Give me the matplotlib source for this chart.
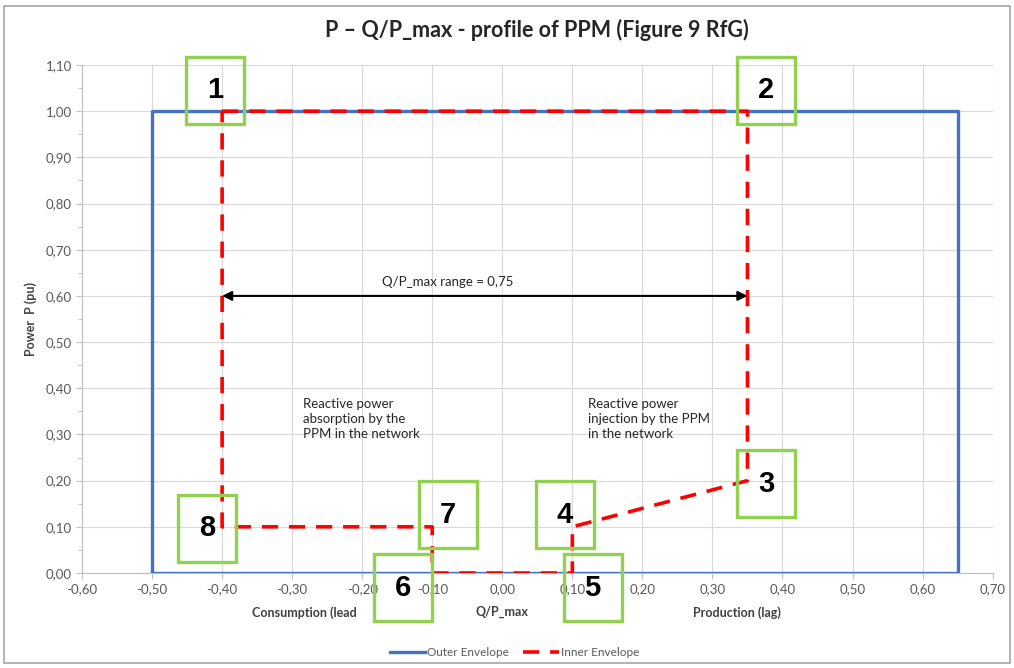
import matplotlib
matplotlib.use("Agg")
import matplotlib.pyplot as plt
from matplotlib.patches import Rectangle
from matplotlib.ticker import MultipleLocator, FuncFormatter

# envelopes (Q/P_max, P)
outer_q = [-0.50, -0.50, 0.65, 0.65, -0.50]
outer_p = [0.00, 1.00, 1.00, 0.00, 0.00]
inner_q = [-0.40, 0.35, 0.35, 0.10, 0.10, -0.10, -0.10, -0.40, -0.40]
inner_p = [1.00, 1.00, 0.20, 0.10, 0.00, 0.00, 0.10, 0.10, 1.00]

# numbered corner markers (label, box centre)
markers = ["1", "2", "3", "4", "5", "6", "7", "8"]
marker_q = [-0.410, 0.376, 0.377, 0.089, 0.129, -0.142, -0.078, -0.422]
marker_p = [1.045, 1.045, 0.193, 0.126, -0.032, -0.032, 0.126, 0.097]

range_text = "Q/P_max range = 0,75"
left_text = "Reactive power\nabsorption by the\nPPM in the network"
right_text = "Reactive power\ninjection by the PPM\nin the network"

blue = "#4472C4"
red = "#FF0000"
green = "#92D050"
font = ["Lato", "DejaVu Sans"]

fig = plt.figure(figsize=(10.14, 6.68), dpi=100)
ax = fig.add_axes([0.0809, 0.1422, 0.898, 0.7605])

# outer picture border
fig.patches.append(Rectangle((0.004, 0.008), 0.992, 0.983, transform=fig.transFigure,
                             fill=False, edgecolor="#A6A6A6", lw=1.2))

ax.plot(outer_q, outer_p, color=blue, lw=2.4, label="Outer Envelope", zorder=3)
ax.plot(inner_q, inner_p, color=red, lw=2.6, ls=(0, (4.5, 3)), label="Inner Envelope",
        zorder=4)

ax.set_xlim(-0.6, 0.7)
ax.set_ylim(0, 1.1)
ax.xaxis.set_major_locator(MultipleLocator(0.1))
ax.yaxis.set_major_locator(MultipleLocator(0.1))
ax.yaxis.set_minor_locator(MultipleLocator(0.05))
fmt = FuncFormatter(lambda v, p: ("%.2f" % v).replace(".", ",").replace("-0,00", "0,00"))
ax.xaxis.set_major_formatter(fmt)
ax.yaxis.set_major_formatter(fmt)
ax.grid(True, which="major", color="#D9D9D9", lw=0.8)
ax.set_axisbelow(True)
for s in ["top", "right"]:
    ax.spines[s].set_visible(False)
for s in ["left", "bottom"]:
    ax.spines[s].set_color("#BFBFBF")
ax.tick_params(which="both", colors="#BFBFBF", labelcolor="#595959", labelsize=9.5,
               length=4, direction="out")
ax.tick_params(which="minor", length=3)
for lab in ax.get_xticklabels() + ax.get_yticklabels():
    lab.set_family(font)

ax.set_title("P \u2013 Q/P_max - profile of PPM (Figure 9 RfG)", fontsize=15.5,
             fontweight="bold", family=font, color="#262626", pad=20)
ax.set_ylabel("Power  P (pu)", fontsize=9, fontweight="bold", family=font,
              color="#404040", labelpad=6)

# x-axis titles
for q, t in [(-0.282, "Consumption (lead"), (0.0, "Q/P_max"), (0.335, "Production (lag)")]:
    ax.text(q, -0.085, t, ha="center", va="center", fontsize=9, fontweight="bold",
            family=font, color="#404040")

# range arrow
ax.annotate("", xy=(inner_q[1], 0.60), xytext=(inner_q[0], 0.60),
            arrowprops=dict(arrowstyle="<|-|>", color="black", lw=1.5,
                            mutation_scale=14, shrinkA=0, shrinkB=0), zorder=5)
ax.text(-0.078, 0.63, range_text, ha="center", va="center", fontsize=9.5,
        family=font, color="#262626")
ax.text(-0.285, 0.38, left_text, ha="left", va="top", fontsize=9.5, family=font,
        color="#262626", linespacing=1.3)
ax.text(0.123, 0.38, right_text, ha="left", va="top", fontsize=9.5, family=font,
        color="#262626", linespacing=1.3)

# numbered green boxes
bw, bh = 0.083, 0.145
for lab, q, p in zip(markers, marker_q, marker_p):
    ax.add_patch(Rectangle((q - bw / 2, p - bh / 2), bw, bh, fill=False,
                           edgecolor=green, lw=2.4, clip_on=False, zorder=6))
    ax.text(q, p, lab, ha="center", va="center", fontsize=21, fontweight="bold",
            family=["Liberation Sans", "DejaVu Sans"], color="black", zorder=7,
            clip_on=False)

leg = ax.legend(loc="upper center", bbox_to_anchor=(0.475, -0.125), ncol=2,
                frameon=False, handlelength=3.0, columnspacing=1.2,
                handletextpad=0.2, prop={"family": font, "size": 8.5})
for t in leg.get_texts():
    t.set_color("#595959")

fig.savefig("out.png", dpi=100)
